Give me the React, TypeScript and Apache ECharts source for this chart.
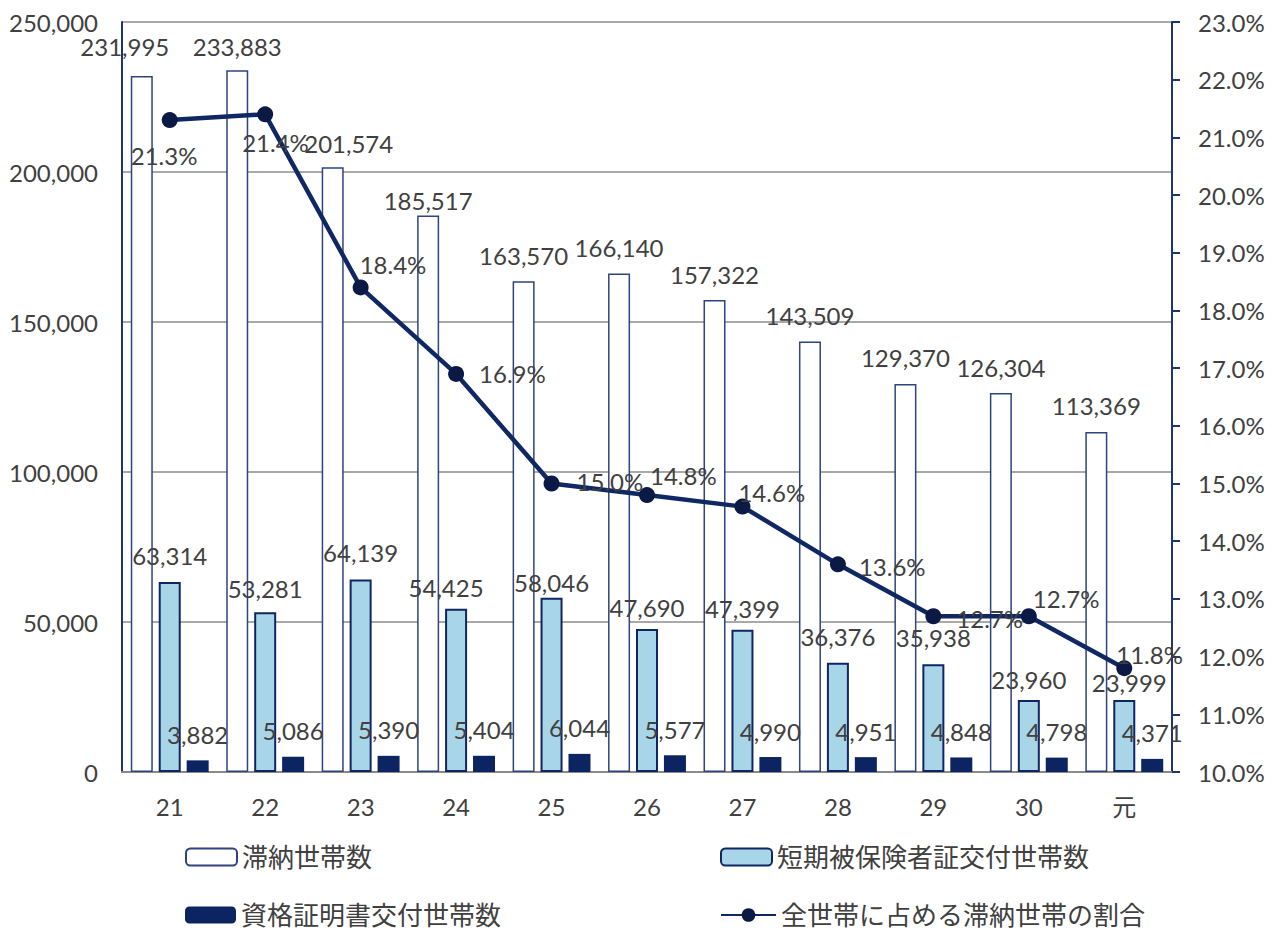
import React, { useEffect, useRef } from 'react';
import * as echarts from 'echarts';

const categories = ['21', '22', '23', '24', '25', '26', '27', '28', '29', '30', '元'];
const delinquent = [231995, 233883, 201574, 185517, 163570, 166140, 157322, 143509, 129370, 126304, 113369];
const shortTerm = [63314, 53281, 64139, 54425, 58046, 47690, 47399, 36376, 35938, 23960, 23999];
const certificate = [3882, 5086, 5390, 5404, 6044, 5577, 4990, 4951, 4848, 4798, 4371];
const ratio = [21.3, 21.4, 18.4, 16.9, 15.0, 14.8, 14.6, 13.6, 12.7, 12.7, 11.8];

const seriesNames = ['滞納世帯数', '短期被保険者証交付世帯数', '資格証明書交付世帯数', '全世帯に占める滞納世帯の割合'];

// label nudges (styling only)
const delinquentLabelOffsets = [[-17, -4], [0, 2], [16, 2], [0, 11], [0, 0], [0, 0], [0, 0], [0, 0], [0, 0], [0, 0], [0, 0]];
const shortTermLabelOffsets = [[0, -3], [0, 0], [0, -3], [-10, 3], [0, 9], [0, 3], [0, 3], [0, -2], [0, -3], [0, 3], [5, 6]];
const ratioLabelOffsets = [[-62, 35], [-46, 28], [-24, -23], [0, 0], [2, -2], [-20, -20], [-27, -14], [-2, 2], [0, 2], [-19, -18], [-31, -14]];

const FONT = 'Lato, "Noto Sans CJK JP", sans-serif';
const TEXT = '#404040';
const NAVY = '#0f2763';

const fmt = (v: number) => v.toLocaleString('en-US');

export default function App() {
  const ref = useRef<HTMLDivElement>(null);
  useEffect(() => {
    if (!ref.current) return;
    const chart = echarts.init(ref.current, null, { renderer: 'svg' });
    const legendBase = {
      orient: 'horizontal',
      padding: 0,
      itemWidth: 51,
      itemHeight: 17,
      textStyle: { fontSize: 26, color: TEXT, fontFamily: FONT },
      selectedMode: false,
    };
    chart.setOption({
      animation: false,
      backgroundColor: '#ffffff',
      textStyle: { fontFamily: FONT },
      grid: { left: 122, right: 104, top: 22, bottom: 166, containLabel: false },
      legend: [
        { ...legendBase, data: [seriesNames[0]], left: 185, top: 844 },
        { ...legendBase, data: [seriesNames[1]], left: 720, top: 844 },
        { ...legendBase, data: [seriesNames[2]], left: 185, top: 902 },
        { ...legendBase, data: [seriesNames[3]], left: 720, top: 902, itemWidth: 55 },
      ],
      xAxis: {
        type: 'category',
        data: categories,
        axisLine: { show: true, lineStyle: { color: '#8a8a8a', width: 2 } },
        axisTick: { show: false },
        axisLabel: { fontSize: 24, color: TEXT, margin: 22, fontFamily: FONT },
      },
      yAxis: [
        {
          type: 'value',
          min: 0,
          max: 250000,
          interval: 50000,
          axisLine: { show: true, lineStyle: { color: '#1f3570', width: 2 } },
          axisTick: { show: false },
          splitLine: { show: true, lineStyle: { color: '#8c8c8c', width: 1.5 } },
          axisLabel: { fontSize: 24, color: TEXT, margin: 24, fontFamily: FONT, formatter: (v: number) => fmt(v) },
        },
        {
          type: 'value',
          position: 'right',
          min: 10,
          max: 23,
          interval: 1,
          axisLine: { show: true, lineStyle: { color: '#1f3570', width: 2 } },
          axisTick: { show: true, inside: false, length: 8, lineStyle: { color: '#1f3570', width: 2 } },
          splitLine: { show: false },
          axisLabel: { fontSize: 24, color: TEXT, margin: 26, fontFamily: FONT, formatter: (v: number) => v.toFixed(1) + '%' },
        },
      ],
      series: [
        {
          name: seriesNames[0],
          type: 'bar',
          barWidth: 22,
          barGap: '27%',
          itemStyle: { color: '#ffffff', borderColor: '#2f437f', borderWidth: 1.5 },
          label: { show: true, position: 'top', distance: 14, fontSize: 24, color: TEXT, fontFamily: FONT, formatter: (p: any) => fmt(p.value) },
          data: delinquent.map((v, i) => ({ value: v, label: { offset: delinquentLabelOffsets[i] } })),
          z: 2,
        },
        {
          name: seriesNames[1],
          type: 'bar',
          barWidth: 22,
          barGap: '27%',
          itemStyle: { color: '#a8d5e8', borderColor: '#0f2660', borderWidth: 2 },
          label: { show: true, position: 'top', distance: 12, fontSize: 24, color: TEXT, fontFamily: FONT, formatter: (p: any) => fmt(p.value) },
          data: shortTerm.map((v, i) => ({ value: v, label: { offset: shortTermLabelOffsets[i] } })),
          z: 2,
        },
        {
          name: seriesNames[2],
          type: 'bar',
          barWidth: 22,
          barGap: '27%',
          itemStyle: { color: '#0c2461' },
          label: { show: true, position: 'top', distance: 14, fontSize: 24, color: TEXT, fontFamily: FONT, formatter: (p: any) => fmt(p.value) },
          data: certificate,
          z: 2,
        },
        {
          name: seriesNames[3],
          type: 'line',
          yAxisIndex: 1,
          symbol: 'circle',
          symbolSize: 16,
          lineStyle: { color: NAVY, width: 4.5 },
          itemStyle: { color: '#0a1a45' },
          label: { show: true, position: 'right', distance: 15, fontSize: 24, color: TEXT, fontFamily: FONT, formatter: (p: any) => p.value.toFixed(1) + '%' },
          data: ratio.map((v, i) => ({ value: v, label: { offset: ratioLabelOffsets[i] } })),
          z: 5,
        },
      ],
    });
    return () => chart.dispose();
  }, []);
  return <div ref={ref} style={{ position: 'fixed', left: 0, top: 0, width: 1276, height: 938, background: '#fff' }} />;
}
